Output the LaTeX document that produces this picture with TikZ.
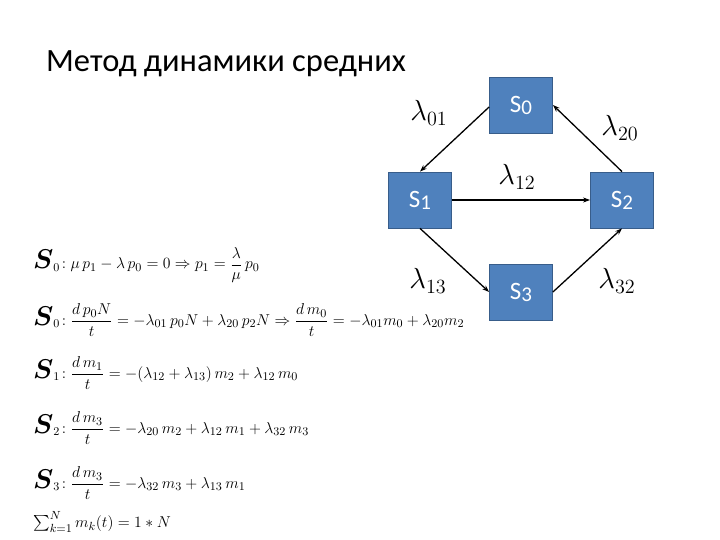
\documentclass[tikz,border=0pt]{standalone}
\usepackage{amsmath}
\usepackage{graphicx}
\usepackage{fontspec}
\setmainfont{Carlito}
\newfontfamily\titlefont{Carlito}
\usetikzlibrary{arrows.meta}
\definecolor{boxfill}{RGB}{79,129,189}
\definecolor{boxline}{RGB}{56,93,138}
\tikzset{
  statebox/.style={draw=boxline, line width=0.8pt, fill=boxfill, minimum width=63pt, minimum height=56pt, inner sep=0pt, text=white, font=\fontsize{25}{28}\selectfont},
  conn/.style={-{Stealth[length=7pt,width=5pt]}, line width=1.3pt, black},
  lab/.style={font=\fontsize{22}{24}\selectfont},
  eq/.style={anchor=west, inner sep=0pt, font=\fontsize{13}{15}\selectfont}
}
\newcommand{\Sbig}[1]{\text{\fontsize{22}{24}\selectfont$\boldsymbol{S}$}_{#1}}
\newcommand{\eqs}[1]{\scalebox{1.31}{#1}}
\newcommand{\labs}[1]{\scalebox{1.4}{#1}}
\newcommand{\stname}[1]{S\raisebox{-2pt}{\fontsize{21}{23}\selectfont #1}}
\begin{document}
\begin{tikzpicture}[x=1pt,y=-1pt]
\useasboundingbox (0,0) rectangle (720,540);
\node[anchor=base west, inner sep=0pt, font=\titlefont\fontsize{32.5}{36}\selectfont] (title) at (46,72) {Метод динамики средних};

\node[statebox] (s0) at (521,105) {\stname{0}};
\node[statebox] (s1) at (420,200) {\stname{1}};
\node[statebox] (s2) at (622,200) {\stname{2}};
\node[statebox] (s3) at (521,292) {\stname{3}};

\draw[conn] (s0.west |- 0,107) -- (s1.north);
\draw[conn] (s1.east) -- (s2.west);
\draw[conn] (s2.north) -- (s0.east);
\draw[conn] (s1.south) -- (s3.west);
\draw[conn] (s3.east) -- (s2.south);

\node[lab] (l01) at (429,113) {\labs{$\lambda_{01}$}};
\node[lab] (l20) at (620,128) {\labs{$\lambda_{20}$}};
\node[lab] (l12) at (517,177) {\labs{$\lambda_{12}$}};
\node[lab] (l13) at (428,281) {\labs{$\lambda_{13}$}};
\node[lab] (l32) at (617,281) {\labs{$\lambda_{32}$}};

\node[eq] (e1) at (33,265) {\eqs{$\Sbig{0}\!:\mu\, p_1-\lambda\, p_0=0\Rightarrow p_1=\dfrac{\lambda}{\mu}\,p_0$}};
\node[eq] (e2) at (33,320) {\eqs{$\Sbig{0}\!:\dfrac{d\,p_0N}{t}=-\lambda_{01}\,p_0N+\lambda_{20}\,p_2N\Rightarrow\dfrac{d\,m_0}{t}=-\lambda_{01}m_0+\lambda_{20}m_2$}};
\node[eq] (e3) at (33,373) {\eqs{$\Sbig{1}\!:\dfrac{d\,m_1}{t}=-(\lambda_{12}+\lambda_{13})\,m_2+\lambda_{12}\,m_0$}};
\node[eq] (e4) at (33,428) {\eqs{$\Sbig{2}\!:\dfrac{d\,m_3}{t}=-\lambda_{20}\,m_2+\lambda_{12}\,m_1+\lambda_{32}\,m_3$}};
\node[eq] (e5) at (33,483) {\eqs{$\Sbig{3}\!:\dfrac{d\,m_3}{t}=-\lambda_{32}\,m_3+\lambda_{13}\,m_1$}};
\node[eq] (e6) at (33,522) {\eqs{$\sum_{k=1}^{N}m_k(t)=1*N$}};
\end{tikzpicture}
\end{document}
